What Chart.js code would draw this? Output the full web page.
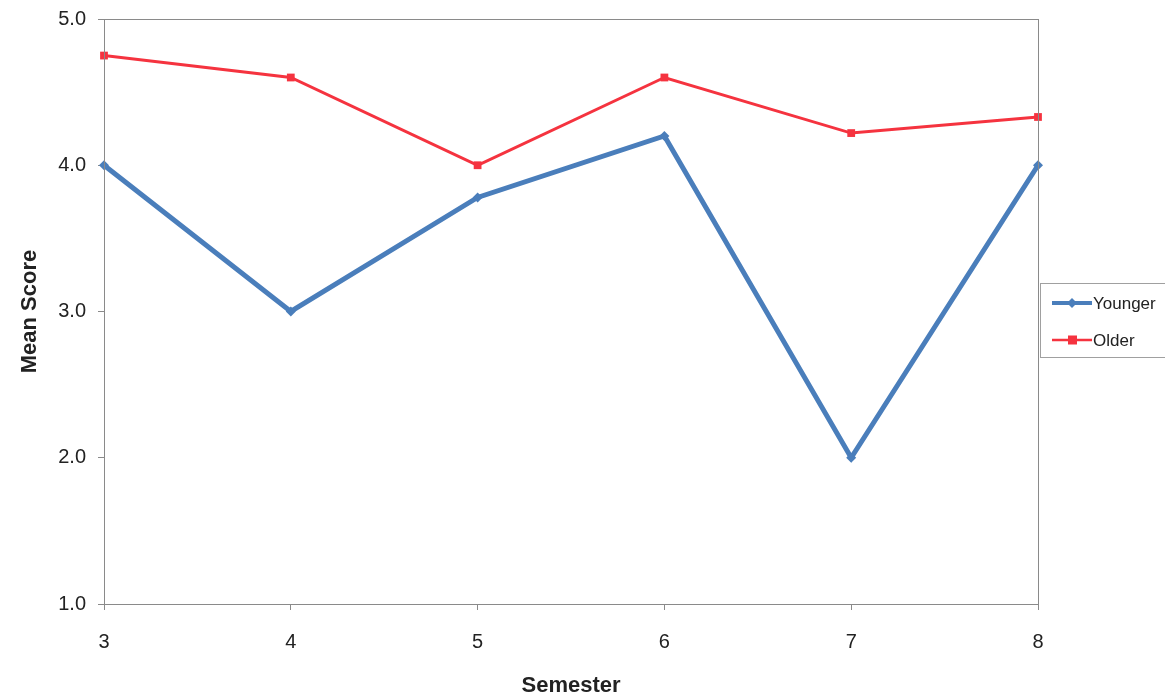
<!DOCTYPE html>
<html>
<head>
<meta charset="utf-8">
<script src="https://cdn.jsdelivr.net/npm/chart.js@4.4.0/dist/chart.umd.min.js"></script>
<style>
  html, body { margin: 0; padding: 0; background: #fff; }
  #meanScoreChart { display: block; }
</style>
</head>
<body>
<canvas id="meanScoreChart" width="1165" height="700"></canvas>
<script>
const semesters = ['3', '4', '5', '6', '7', '8'];
const younger = [4.0, 3.0, 3.78, 4.2, 2.0, 4.0];
const older = [4.75, 4.6, 4.0, 4.6, 4.22, 4.33];
const yTicks = [1, 2, 3, 4, 5];

const blue = '#4A7EBB';
const red = '#F5333F';
const fontName = "'Liberation Sans', Arial, sans-serif";

// box around the plot area
const frame = {
    id: 'frame',
    afterDatasetsDraw(chart) {
        const a = chart.chartArea;
        const c = chart.ctx;
        c.save();
        c.strokeStyle = '#8a8a8a';
        c.lineWidth = 1;
        c.strokeRect(a.left + 0.5, a.top + 0.5, a.right - a.left, a.bottom - a.top);
        c.restore();
    }
};

// excel style legend: line with marker, inside a box
const sideLegend = {
    id: 'sideLegend',
    afterDraw(chart) {
        const c = chart.ctx;
        c.save();
        c.strokeStyle = '#a0a0a0';
        c.lineWidth = 1;
        c.strokeRect(1040.5, 283.5, 140, 74);
        c.font = '17px ' + fontName;
        c.textBaseline = 'middle';
        chart.data.datasets.forEach((ds, i) => {
            const y = 303 + i * 37;
            c.strokeStyle = ds.borderColor;
            c.lineWidth = i === 0 ? 4 : 2.5;
            c.beginPath();
            c.moveTo(1052, y);
            c.lineTo(1092, y);
            c.stroke();
            c.fillStyle = ds.borderColor;
            if (i === 0) {
                c.beginPath();
                c.moveTo(1072, y - 5);
                c.lineTo(1077, y);
                c.lineTo(1072, y + 5);
                c.lineTo(1067, y);
                c.closePath();
                c.fill();
            } else {
                c.fillRect(1068, y - 4.5, 9, 9);
            }
            c.fillStyle = '#222';
            c.fillText(ds.label, 1093, y + 1);
        });
        c.restore();
    }
};

const ctx = document.getElementById('meanScoreChart');
new Chart(ctx, {
    type: 'line',
    data: {
        labels: semesters,
        datasets: [{
            label: 'Younger',
            data: younger,
            borderColor: blue,
            backgroundColor: blue,
            borderWidth: 5,
            pointStyle: 'rectRot',
            pointRadius: 5,
            pointBorderWidth: 0,
            tension: 0,
            clip: false,
            order: 1
        }, {
            label: 'Older',
            data: older,
            borderColor: red,
            backgroundColor: red,
            borderWidth: 3,
            pointStyle: 'rect',
            pointRadius: 5.5,
            pointBorderWidth: 0,
            tension: 0,
            clip: false,
            order: 2
        }]
    },
    options: {
        responsive: false,
        animation: false,
        devicePixelRatio: 1,
        layout: { padding: { top: 19, right: 127, bottom: 0, left: 0 } },
        plugins: {
            legend: { display: false },
            tooltip: { enabled: false }
        },
        scales: {
            x: {
                type: 'category',
                offset: false,
                afterFit: s => { s.height = 96; s.paddingLeft = 0; s.paddingRight = 0; },
                grid: { display: true, drawOnChartArea: false, drawTicks: true, tickLength: 6, color: '#8a8a8a' },
                border: { display: false },
                ticks: { color: '#222', font: { family: fontName, size: 20 }, padding: 20, maxRotation: 0 },
                title: {
                    display: true,
                    text: 'Semester',
                    color: '#222',
                    font: { family: fontName, size: 22, weight: 'bold' },
                    padding: { top: 0, bottom: 1 }
                }
            },
            y: {
                min: 1,
                max: 5,
                afterFit: s => { s.width = 104; s.paddingTop = 0; s.paddingBottom = 0; },
                afterBuildTicks: s => { s.ticks = yTicks.map(v => ({ value: v })); },
                grid: { display: true, drawOnChartArea: false, drawTicks: true, tickLength: 6, color: '#8a8a8a' },
                border: { display: false },
                ticks: {
                    color: '#222',
                    font: { family: fontName, size: 20 },
                    padding: 12,
                    callback: v => v.toFixed(1)
                },
                title: {
                    display: true,
                    text: 'Mean Score',
                    color: '#222',
                    font: { family: fontName, size: 22, weight: 'bold' },
                    padding: { top: 17, bottom: 0 }
                }
            }
        }
    },
    plugins: [frame, sideLegend]
});
</script>
</body>
</html>
